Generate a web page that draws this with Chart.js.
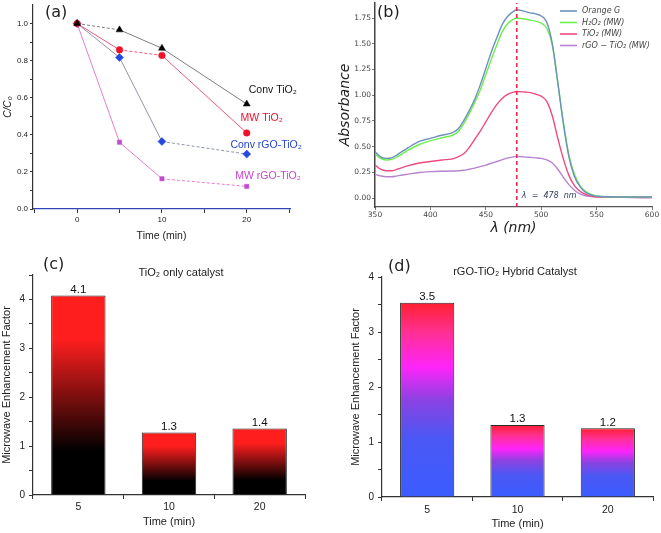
<!DOCTYPE html>
<html lang="en">
  <head>
    <meta charset="UTF-8" />
    <meta name="viewport" content="width=device-width, initial-scale=1.0" />
    <title>Microwave photocatalysis</title>
    <script src="https://cdn.jsdelivr.net/npm/chart.js"></script>
    <style>
      body { margin: 0; background: #fff; }
      #fig { position: relative; width: 661px; height: 533px; overflow: hidden; }
      canvas { position: absolute; }
    </style>
  </head>
  <body>
    <div id="fig">
      <canvas id="chartA" width="330" height="248" style="left:0px;top:0px"></canvas>
      <canvas id="chartB" width="331" height="248" style="left:330px;top:0px"></canvas>
      <canvas id="chartC" width="330" height="285" style="left:0px;top:248px"></canvas>
      <canvas id="chartD" width="331" height="285" style="left:330px;top:248px"></canvas>
    </div>

    <script>
      // (a) C/C0 vs time
      const times = [0, 5, 10, 20];
      const convTiO2 = [1.0, 0.966, 0.867, 0.566];
      const mwTiO2 = [1.0, 0.858, 0.828, 0.41];
      const convRgoTiO2 = [1.0, 0.817, 0.364, 0.296];
      const mwRgoTiO2 = [1.0, 0.36, 0.163, 0.122];

      // (b) absorbance spectra
      const wavelength = [350, 355, 360, 365, 370, 380, 390, 400, 410, 420, 425, 430, 435, 440, 445,
        450, 455, 460, 465, 470, 475, 478, 485, 490, 495, 500, 505, 510, 515, 520, 525, 530, 535,
        540, 545, 550, 560, 575, 600];
      const orangeG = [0.45, 0.40, 0.385, 0.39, 0.42, 0.49, 0.55, 0.58, 0.61, 0.635, 0.67, 0.75, 0.85,
        0.96, 1.10, 1.26, 1.42, 1.56, 1.69, 1.77, 1.815, 1.83, 1.815, 1.80, 1.79, 1.77, 1.71, 1.50,
        1.12, 0.72, 0.40, 0.21, 0.11, 0.055, 0.03, 0.018, 0.012, 0.01, 0.01];
      const h2o2MW = [0.43, 0.385, 0.37, 0.375, 0.40, 0.465, 0.52, 0.555, 0.585, 0.61, 0.645, 0.72,
        0.82, 0.93, 1.05, 1.20, 1.35, 1.49, 1.62, 1.70, 1.74, 1.75, 1.74, 1.73, 1.72, 1.70, 1.65,
        1.49, 1.12, 0.74, 0.42, 0.23, 0.12, 0.065, 0.035, 0.02, 0.012, 0.01, 0.008];
      const tio2MW = [0.32, 0.28, 0.265, 0.265, 0.28, 0.315, 0.34, 0.355, 0.37, 0.38, 0.40, 0.43,
        0.49, 0.57, 0.65, 0.74, 0.83, 0.91, 0.97, 1.01, 1.03, 1.035, 1.03, 1.025, 1.01, 0.99, 0.94,
        0.80, 0.58, 0.38, 0.22, 0.12, 0.065, 0.035, 0.02, 0.012, 0.008, 0.006, 0.005];
      const rgoTio2MW = [0.23, 0.215, 0.207, 0.207, 0.215, 0.232, 0.248, 0.256, 0.26, 0.262, 0.265,
        0.27, 0.28, 0.29, 0.305, 0.32, 0.338, 0.355, 0.373, 0.39, 0.40, 0.405, 0.40, 0.395, 0.39,
        0.385, 0.37, 0.34, 0.28, 0.20, 0.13, 0.075, 0.04, 0.022, 0.015, 0.01, 0.008, 0.006, 0.005];
      const peakNm = 478;

      // (c), (d) enhancement factors
      const barTimes = ["5", "10", "20"];
      const tio2Factor = [4.08, 1.28, 1.36];
      const tio2FactorText = ["4.1", "1.3", "1.4"];
      const rgoFactor = [3.53, 1.31, 1.25];
      const rgoFactorText = ["3.5", "1.3", "1.2"];

      Chart.defaults.font.family = '"Liberation Sans", Arial, sans-serif';
      Chart.defaults.color = "#222";

      // fixed axis box so the plot areas land where the figure has them
      const fit = (size) => (scale) => {
        if (scale.isHorizontal()) scale.height = size;
        else scale.width = size;
        scale.paddingLeft = scale.paddingRight = scale.paddingTop = scale.paddingBottom = 0;
      };
      const tickAt = (vals) => (scale) => {
        scale.ticks = vals.map((v) => ({ value: v }));
      };
      const steps = (from, to, step) => {
        const out = [];
        for (let i = 0; from + i * step <= to + 1e-9; i++) out.push(+(from + i * step).toFixed(4));
        return out;
      };
      const notes = (items) => ({
        id: "notes",
        afterDraw(chart) {
          const c = chart.ctx;
          items.forEach((t) => {
            c.save();
            c.font = t.font;
            c.fillStyle = t.color || "#222";
            c.textAlign = t.align || "left";
            c.textBaseline = "middle";
            c.fillText(t.text, t.x, t.y);
            c.restore();
          });
        },
      });
      const pts = (xs, ys) => xs.map((x, i) => ({ x: x, y: ys[i] }));

      // ---------- (a) ----------
      const styleA = [
        { data: convTiO2, label: "Conv TiO₂", point: "triangle", r: 4, mark: "#000", line: "#7d7d7d", text: "#111", dash: [0], dx: 50, dy: -14 },
        { data: mwTiO2, label: "MW TiO₂", point: "circle", r: 3.3, mark: "#f0102a", line: "#f25577", text: "#f0102a", dash: [1], dx: 36, dy: -15 },
        { data: convRgoTiO2, label: "Conv rGO-TiO₂", point: "rectRot", r: 4, mark: "#2449e0", line: "#8e95a8", text: "#2445d0", dash: [2], dx: 55, dy: -9 },
        { data: mwRgoTiO2, label: "MW rGO-TiO₂", point: "rect", r: 3, mark: "#c04ad0", line: "#ea7ccc", text: "#c548cf", dash: [2], dx: 54, dy: -10 },
      ];

      const labelsA = {
        id: "labelsA",
        afterDatasetsDraw(chart) {
          const { ctx, scales } = chart;
          chart.data.datasets.forEach((ds, i) => {
            const last = ds.data[ds.data.length - 1];
            ctx.save();
            ctx.font = '10.5px "Liberation Sans"';
            ctx.fillStyle = styleA[i].text;
            ctx.textAlign = "right";
            ctx.textBaseline = "middle";
            ctx.fillText(ds.label, scales.x.getPixelForValue(last.x) + styleA[i].dx,
              scales.y.getPixelForValue(last.y) + styleA[i].dy);
            ctx.restore();
          });
        },
      };

      new Chart(document.getElementById("chartA"), {
        type: "line",
        data: {
          datasets: styleA.map((s) => ({
            label: s.label,
            data: pts(times, s.data),
            borderColor: s.line,
            borderWidth: 1,
            pointStyle: s.point,
            pointRadius: s.r,
            pointBackgroundColor: s.mark,
            pointBorderColor: s.mark,
            pointBorderWidth: 0.5,
            segment: { borderDash: (c) => (s.dash.includes(c.p0DataIndex) ? [3, 2] : undefined) },
          })),
        },
        options: {
          responsive: false,
          animation: false,
          layout: { padding: { left: 0, top: 5, right: 40, bottom: 0 } },
          plugins: { legend: { display: false }, tooltip: { enabled: false } },
          scales: {
            x: {
              type: "linear",
              min: -5.2,
              max: 25.1,
              afterFit: fit(39),
              afterBuildTicks: tickAt([-5, 0, 5, 10, 15, 20, 25]),
              ticks: {
                autoSkip: false,
                maxRotation: 0,
                padding: 2,
                font: { size: 8 },
                callback: (v) => (v >= 0 && v <= 20 && v % 10 === 0 ? String(v) : ""),
              },
              grid: { drawOnChartArea: false, tickLength: 4, color: "#333" },
              border: { color: "#3046b8", width: 1.3 },
              title: { display: true, text: "Time (min)", font: { size: 10.5 }, padding: { top: 0, bottom: 6 } },
            },
            y: {
              min: 0,
              max: 1.1,
              afterFit: fit(33),
              afterBuildTicks: tickAt(steps(0, 1.0, 0.1)),
              ticks: {
                autoSkip: false,
                padding: 2,
                font: { size: 8 },
                callback: (v) => (Math.round(v * 10) % 2 === 0 ? v.toFixed(1) : ""),
              },
              grid: { drawOnChartArea: false, tickLength: 3, color: "#333" },
              border: { color: "#333", width: 1.2 },
              title: { display: true, text: "C/C₀", font: { size: 10, style: "italic" }, padding: { top: 2, bottom: 0 } },
            },
          },
        },
        plugins: [labelsA, notes([{ text: "(a)", x: 45, y: 13, font: '16px "DejaVu Sans"' }])],
      });

      // ---------- (b) ----------
      const seriesB = [
        { label: "Orange G", data: orangeG, color: "#6e90bf" },
        { label: "H₂O₂ (MW)", data: h2o2MW, color: "#6bef4c" },
        { label: "TiO₂ (MW)", data: tio2MW, color: "#ef4a7e" },
        { label: "rGO − TiO₂ (MW)", data: rgoTio2MW, color: "#b683cf" },
      ];

      const extrasB = {
        id: "extrasB",
        afterDatasetsDraw(chart) {
          const { ctx, chartArea, scales } = chart;
          const px = scales.x.getPixelForValue(peakNm);
          ctx.save();
          ctx.strokeStyle = "#ee1f45";
          ctx.lineWidth = 1.5;
          ctx.setLineDash([4, 3]);
          ctx.beginPath();
          ctx.moveTo(px, chartArea.bottom);
          ctx.lineTo(px, chartArea.top);
          ctx.stroke();
          ctx.setLineDash([]);
          ctx.font = 'italic 8px "DejaVu Sans"';
          ctx.fillStyle = "#34405e";
          ctx.textBaseline = "middle";
          ctx.fillText("λ  =  " + peakNm + "  nm", px + 5, scales.y.getPixelForValue(0) - 2);
          // legend
          chart.data.datasets.forEach((ds, i) => {
            const y = chartArea.top + 8 + i * 11.5;
            ctx.strokeStyle = ds.borderColor;
            ctx.lineWidth = 1.6;
            ctx.beginPath();
            ctx.moveTo(chartArea.right - 92, y);
            ctx.lineTo(chartArea.right - 75, y);
            ctx.stroke();
            ctx.fillStyle = "#444";
            ctx.fillText(ds.label, chartArea.right - 70, y);
          });
          ctx.restore();
        },
      };

      const fontB = '"DejaVu Sans", sans-serif';
      new Chart(document.getElementById("chartB"), {
        type: "line",
        data: {
          datasets: seriesB.map((s) => ({
            label: s.label,
            data: pts(wavelength, s.data),
            borderColor: s.color,
            borderWidth: 1.4,
            pointRadius: 0,
            cubicInterpolationMode: "monotone",
          })),
        },
        options: {
          responsive: false,
          animation: false,
          layout: { padding: { left: 0, top: 3, right: 9, bottom: 0 } },
          plugins: { legend: { display: false }, tooltip: { enabled: false } },
          scales: {
            x: {
              type: "linear",
              min: 350,
              max: 600,
              afterFit: fit(41),
              afterBuildTicks: tickAt(steps(350, 600, 50)),
              ticks: { autoSkip: false, maxRotation: 0, padding: 1, color: "#444", font: { family: fontB, size: 7.5 } },
              grid: { drawOnChartArea: false, tickLength: 3, color: "#777" },
              border: { color: "#555", width: 1.2 },
              title: { display: true, text: "λ (nm)", color: "#222", font: { family: fontB, size: 14, style: "italic" }, padding: { top: 0, bottom: 11 } },
            },
            y: {
              min: -0.0875,
              max: 1.896,
              afterFit: fit(45),
              afterBuildTicks: tickAt(steps(0, 1.75, 0.25)),
              ticks: { autoSkip: false, padding: 1, color: "#444", font: { family: fontB, size: 7.5 }, callback: (v) => v.toFixed(2) },
              grid: { drawOnChartArea: false, tickLength: 3, color: "#777" },
              border: { color: "#444", width: 1.5 },
              title: { display: true, text: "Absorbance", color: "#222", font: { family: fontB, size: 14, style: "italic" }, padding: { top: 7, bottom: 0 } },
            },
          },
        },
        plugins: [extrasB, notes([{ text: "(b)", x: 47, y: 13, font: '16px "DejaVu Sans"' }])],
      });

      // ---------- (c), (d) ----------
      const gradient = (stops) => (ctx) => {
        const chart = ctx.chart;
        const y = chart.scales.y;
        if (!chart.chartArea || !y || ctx.raw == null) return stops[stops.length - 1][1];
        const g = chart.ctx.createLinearGradient(0, y.getPixelForValue(0), 0, y.getPixelForValue(ctx.raw));
        stops.forEach((s) => g.addColorStop(s[0], s[1]));
        return g;
      };

      const valueLabels = (texts) => ({
        id: "valueLabels",
        afterDatasetsDraw(chart) {
          const ctx = chart.ctx;
          ctx.save();
          ctx.font = '11.5px "Liberation Sans"';
          ctx.fillStyle = "#111";
          ctx.textAlign = "center";
          ctx.textBaseline = "bottom";
          chart.getDatasetMeta(0).data.forEach((bar, i) => ctx.fillText(texts[i], bar.x, bar.y));
          ctx.restore();
        },
      });

      function barChart(id, values, texts, stops, yMax, sizes, extras) {
        return new Chart(document.getElementById(id), {
          type: "bar",
          data: {
            labels: barTimes,
            datasets: [
              {
                data: values,
                backgroundColor: gradient(stops),
                borderColor: "#2a2a2a",
                borderWidth: 1,
                barPercentage: 0.6,
                categoryPercentage: 1,
              },
            ],
          },
          options: {
            responsive: false,
            animation: false,
            layout: { padding: { left: 0, top: sizes.top, right: sizes.right, bottom: 0 } },
            plugins: { legend: { display: false }, tooltip: { enabled: false } },
            scales: {
              x: {
                afterFit: fit(sizes.xh),
                ticks: { padding: sizes.xpad, font: { size: 10.5 }, maxRotation: 0 },
                grid: { drawOnChartArea: false, tickLength: 4, color: "#333", offset: true },
                border: { color: "#333", width: 1.2 },
                title: { display: true, text: "Time (min)", font: { size: 11 }, padding: { top: 0, bottom: sizes.xt } },
              },
              y: {
                min: 0,
                max: yMax,
                afterFit: fit(sizes.yw),
                afterBuildTicks: tickAt(steps(0, yMax, 0.5)),
                ticks: {
                  autoSkip: false,
                  padding: 4,
                  font: { size: 10 },
                  callback: (v) => (Number.isInteger(v) ? String(v) : ""),
                },
                grid: { drawOnChartArea: false, tickLength: 4, color: "#333" },
                border: { color: "#333", width: 1.2 },
                title: { display: true, text: "Microwave Enhancement Factor", font: { size: 11 }, padding: { top: sizes.yt, bottom: 0 } },
              },
            },
          },
          plugins: [valueLabels(texts), notes(extras)],
        });
      }

      barChart("chartC", tio2Factor, tio2FactorText,
        [[0, "#000000"], [0.22, "#000000"], [0.78, "#ff1e1e"], [1, "#ff1e1e"]],
        4.5,
        { top: 27, right: 25, xh: 38, yw: 33, xpad: 2, xt: 4, yt: 0 },
        [
          { text: "(c)", x: 43, y: 17, font: '16px "DejaVu Sans"' },
          { text: "TiO₂ only catalyst", x: 181, y: 25, align: "center", font: '11px "Liberation Sans"' },
        ]);

      barChart("chartD", rgoFactor, rgoFactorText,
        [[0, "#3b5cff"], [0.3, "#4a58f4"], [0.5, "#8a42e2"], [0.67, "#ff24fa"], [0.85, "#ff3092"], [1, "#ff2030"]],
        4,
        { top: 29, right: 8, xh: 36, yw: 52, xpad: 3, xt: 2, yt: 19 },
        [
          { text: "(d)", x: 58, y: 19, font: '16px "DejaVu Sans"' },
          { text: "rGO-TiO₂ Hybrid Catalyst", x: 185, y: 24, align: "center", font: '11px "Liberation Sans"' },
        ]);
    </script>
  </body>
</html>
